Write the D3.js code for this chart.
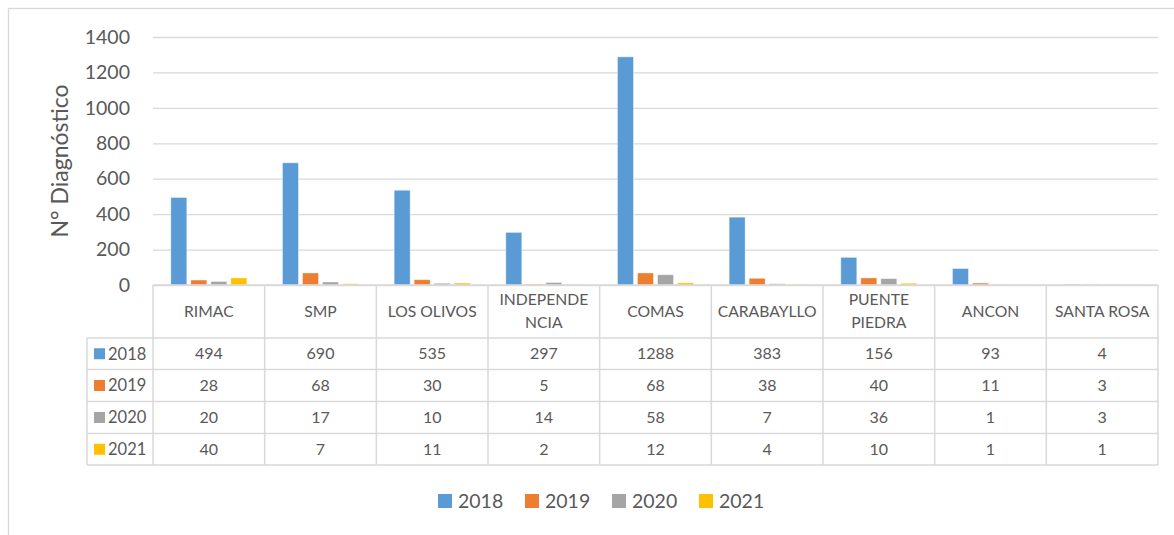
<!DOCTYPE html>
<html>
<head>
<meta charset="utf-8">
<script src="https://cdn.jsdelivr.net/npm/d3@7"></script>
<style>
  html, body { margin: 0; padding: 0; background: #fff; }
  svg { display: block; font-family: Lato, "Open Sans", sans-serif; }
</style>
</head>
<body>
<svg id="chart" width="1174" height="535"></svg>
<script>
// Districts (header lines of each table column)
const districts = [
  ["RIMAC"], ["SMP"], ["LOS OLIVOS"], ["INDEPENDE", "NCIA"], ["COMAS"],
  ["CARABAYLLO"], ["PUENTE", "PIEDRA"], ["ANCON"], ["SANTA ROSA"]
];
const years = ["2018", "2019", "2020", "2021"];
const values2018 = [494, 690, 535, 297, 1288, 383, 156, 93, 4];
const values2019 = [28, 68, 30, 5, 68, 38, 40, 11, 3];
const values2020 = [20, 17, 10, 14, 58, 7, 36, 1, 3];
const values2021 = [40, 7, 11, 2, 12, 4, 10, 1, 1];
const yTicks = [0, 200, 400, 600, 800, 1000, 1200, 1400];
const colors = ["#5B9BD5", "#ED7D31", "#A5A5A5", "#FFC000"];
const yTitle = "N° Diagnóstico";

const series = [values2018, values2019, values2020, values2021];
const catIdx = d3.range(districts.length);

const svg = d3.select("#chart");
const textColor = "#595959";
const lineColor = "#d9d9d9";

// Chart frame
svg.append("rect")
  .attr("x", 8.5).attr("y", 8.5).attr("width", 1200).attr("height", 600)
  .attr("fill", "none").attr("stroke", lineColor).attr("stroke-width", 1.3);

// Plot geometry
const plotLeft = 153, plotRight = 1158, plotTop = 37, plotBottom = 285;
const x = d3.scaleBand().domain(catIdx).range([plotLeft, plotRight]).padding(0);
const groupPad = 17.8;
const xInner = d3.scaleBand().domain(d3.range(years.length))
  .range([groupPad, x.bandwidth() - groupPad]).paddingInner(0.2).paddingOuter(0);
const y = d3.scaleLinear().domain([0, 1400]).range([plotBottom, plotTop]);

// Gridlines and y labels
const yAxis = d3.axisLeft(y).tickValues(yTicks).tickSize(-(plotRight - plotLeft)).tickPadding(23).tickFormat(d3.format("d"));
const ga = svg.append("g").attr("transform", `translate(${plotLeft},0)`).call(yAxis);
ga.select(".domain").remove();
ga.selectAll(".tick line").attr("stroke", lineColor).attr("stroke-width", 1.3);
ga.selectAll(".tick text").attr("fill", textColor).attr("font-size", 19.5)
  .attr("font-family", "Lato, sans-serif");

// Y title
svg.append("text")
  .attr("transform", `translate(68,${(plotTop + plotBottom) / 2}) rotate(-90)`)
  .attr("text-anchor", "middle").attr("fill", textColor)
  .attr("font-size", 23).text(yTitle);

// Bars
const barG = svg.append("g");
series.forEach((vals, si) => {
  barG.selectAll(null).data(catIdx).enter().append("rect")
    .attr("x", i => x(i) + xInner(si))
    .attr("y", i => y(vals[i]))
    .attr("width", xInner.bandwidth())
    .attr("height", i => plotBottom - y(vals[i]))
    .attr("fill", colors[si])
    .attr("stroke", "#ffffff").attr("stroke-opacity", 0.5).attr("stroke-width", 0.8);
});

// Data table
const tableLeft = 87;
const headerBottom = 338;
const rowEdges = [338, 369.5, 401.5, 433.5, 465];
const tg = svg.append("g");
const line = (x1, y1, x2, y2) => tg.append("line")
  .attr("x1", x1).attr("y1", y1).attr("x2", x2).attr("y2", y2)
  .attr("stroke", lineColor).attr("stroke-width", 1.5);

line(plotLeft, plotBottom, plotRight, plotBottom);
rowEdges.forEach(ry => line(tableLeft, ry, plotRight, ry));
line(tableLeft, headerBottom, tableLeft, rowEdges[rowEdges.length - 1]);
catIdx.forEach(i => line(x(i), plotBottom, x(i), rowEdges[rowEdges.length - 1]));
line(plotRight, plotBottom, plotRight, rowEdges[rowEdges.length - 1]);

// Header labels
catIdx.forEach(i => {
  const lines = districts[i];
  const cx = x(i) + x.bandwidth() / 2;
  const cy = (plotBottom + headerBottom) / 2;
  const lh = 23;
  lines.forEach((t, k) => {
    tg.append("text").attr("x", cx)
      .attr("y", cy + (k - (lines.length - 1) / 2) * lh)
      .attr("dy", "0.35em").attr("text-anchor", "middle")
      .attr("fill", textColor).attr("font-size", 15.7).text(t);
  });
});

// Row headers and values
series.forEach((vals, si) => {
  const cy = (rowEdges[si] + rowEdges[si + 1]) / 2;
  tg.append("rect").attr("x", 94).attr("y", cy - 5.5).attr("width", 11).attr("height", 11)
    .attr("fill", colors[si]);
  tg.append("text").attr("x", 108).attr("y", cy).attr("dy", "0.35em")
    .attr("fill", textColor).attr("font-size", 16.5).text(years[si]);
  catIdx.forEach(i => {
    tg.append("text").attr("x", x(i) + x.bandwidth() / 2).attr("y", cy).attr("dy", "0.35em")
      .attr("text-anchor", "middle").attr("fill", textColor).attr("font-size", 16)
      .text(vals[i]);
  });
});

// Legend
const legendX = [438, 525, 612, 699];
const lg = svg.append("g");
years.forEach((yr, si) => {
  lg.append("rect").attr("x", legendX[si]).attr("y", 494).attr("width", 14).attr("height", 14)
    .attr("fill", colors[si]);
  lg.append("text").attr("x", legendX[si] + 20).attr("y", 501).attr("dy", "0.35em")
    .attr("fill", textColor).attr("font-size", 19.5).text(yr);
});
</script>
</body>
</html>
